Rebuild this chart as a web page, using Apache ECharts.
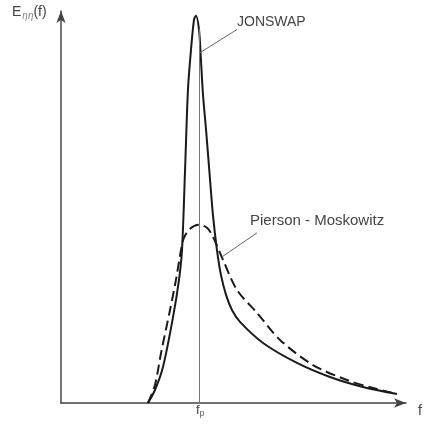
<!DOCTYPE html>
<html><head><meta charset="utf-8">
<script src="https://cdn.jsdelivr.net/npm/echarts@6/dist/echarts.min.js"></script>
<style>html,body{margin:0;padding:0;background:#fff}#c{width:427px;height:426px}</style>
</head><body><div id="c"></div>
<script>
// f / fp and E (relative to Pierson-Moskowitz peak)
var jonswapF = [0.630,0.681,0.739,0.812,0.855,0.877,0.899,0.920,0.942,0.964,0.978,1.000,1.014,1.029,1.051,1.080,1.101,1.130,1.159,1.196,1.239,1.297,1.464,1.710,1.949,2.188,2.435];
var jonswapE = [0.000,0.073,0.202,0.483,0.691,0.860,1.309,1.758,1.983,2.152,2.174,2.096,1.927,1.730,1.534,1.253,1.056,0.860,0.719,0.607,0.522,0.455,0.337,0.225,0.146,0.090,0.051];
var pmF = [0.630,0.681,0.725,0.790,0.833,0.870,0.891,0.935,1.000,1.058,1.101,1.174,1.275,1.420,1.587,1.826,2.072,2.261,2.435];
var pmE = [0.000,0.101,0.281,0.522,0.691,0.860,0.927,0.978,1.000,0.983,0.933,0.803,0.635,0.506,0.354,0.213,0.129,0.084,0.051];
var fpValue = 1.0;
var fpLineTop = 2.10;
var jonswapPointer = [[1.275,2.096],[1.007,1.966]];
var pmPointer = [[1.420,0.955],[1.167,0.820]];

function zip(a,b){return a.map(function(v,i){return [v,b[i]];});}

var chart = echarts.init(document.getElementById('c'), null, {renderer:'canvas'});
var axisLine = {show:true, symbol:['none','arrow'], symbolSize:[7,12], lineStyle:{color:'#444', width:1.5}};
var ff = 'Liberation Sans';
chart.setOption({
  animation:false,
  backgroundColor:'#fff',
  grid:{left:61, right:21, top:11, bottom:23},
  xAxis:{type:'value', min:0, max:2.5, axisLine:axisLine, axisTick:{show:false}, axisLabel:{show:false}, splitLine:{show:false}},
  yAxis:{type:'value', min:0, max:2.2, axisLine:axisLine, axisTick:{show:false}, axisLabel:{show:false}, splitLine:{show:false}},
  series:[
    {type:'line', name:'JONSWAP', data:zip(jonswapF,jonswapE), smooth:0.3, showSymbol:false,
     lineStyle:{color:'#1a1a1a', width:2},
     markLine:{silent:true, symbol:'none', label:{show:false},
       data:[
         [{coord:[fpValue,0], lineStyle:{color:'#777', width:1, type:'solid'}},{coord:[fpValue,fpLineTop]}],
         [{coord:jonswapPointer[0], lineStyle:{color:'#666', width:1, type:'solid'}},{coord:jonswapPointer[1]}]
       ]}},
    {type:'line', name:'Pierson - Moskowitz', data:zip(pmF,pmE), smooth:0.3, showSymbol:false,
     lineStyle:{color:'#1a1a1a', width:2, type:[10,5]},
     markLine:{silent:true, symbol:'none', label:{show:false},
       data:[[{coord:pmPointer[0], lineStyle:{color:'#666', width:1, type:'solid'}},{coord:pmPointer[1]}]]}}
  ],
  graphic:[
    {type:'text', left:12, top:5, style:{rich:{a:{fontSize:14,fill:'#444',fontFamily:ff},s:{fontSize:10,fill:'#888',fontStyle:'italic',fontFamily:ff,padding:[8,0,0,1]}}, text:'{a|E}{s|ηη}{a|(f)}'}},
    {type:'text', left:237, top:15, style:{text:'JONSWAP', fontSize:14, fill:'#444', fontFamily:ff}},
    {type:'text', left:250, top:213, style:{text:'Pierson - Moskowitz', fontSize:15, fill:'#444', fontFamily:ff}},
    {type:'text', left:196, top:404, style:{rich:{a:{fontSize:13,fill:'#444',fontFamily:ff},s:{fontSize:9,fill:'#666',fontFamily:ff,padding:[7,0,0,0]}}, text:'{a|f}{s|p}'}},
    {type:'text', left:418, top:404, style:{text:'f', fontSize:14, fill:'#444', fontFamily:ff}}
  ]
});
</script></body></html>
